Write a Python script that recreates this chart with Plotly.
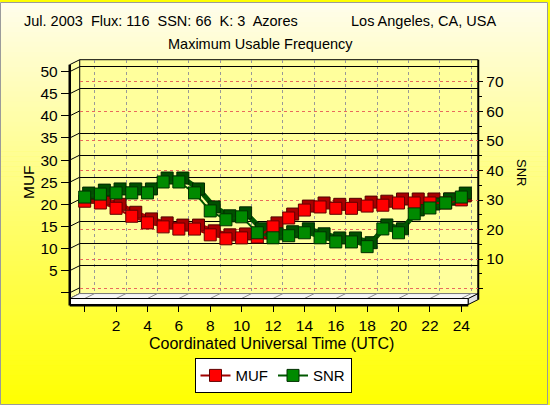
import plotly.graph_objects as go

# ---------------- data ----------------
hours = list(range(25))
muf = [20.7, 20.3, 19.1, 17.3, 15.8, 14.9, 14.4, 14.4, 13.1, 12.2, 12.4, 12.6, 14.9,
       16.9, 18.7, 19.4, 19.1, 19.1, 19.6, 19.8, 20.3, 20.3, 20.3, 20.3, 21.0]
snr = [31.0, 32.0, 32.4, 32.4, 32.4, 36.1, 36.1, 32.4, 26.3, 23.3, 24.3, 18.9, 17.2,
       17.9, 18.9, 17.2, 15.8, 15.8, 14.2, 20.2, 18.9, 25.3, 27.3, 29.0, 31.0]
x_tick_vals = list(range(0, 25, 2))
x_tick_text = [""] + [str(v) for v in range(2, 25, 2)]
muf_tick_vals = list(range(0, 51, 5))
muf_tick_text = [""] + [str(v) for v in range(5, 51, 5)]
snr_tick_vals = list(range(0, 71, 10))
snr_tick_text = [""] + [str(v) for v in range(10, 71, 10)]
snr_minor_vals = list(range(5, 71, 10))
muf_back_grid = [5, 10, 15, 25, 30, 35, 45, 50]

title_left = "Jul. 2003\u00a0 Flux: 116\u00a0 SSN: 66\u00a0 K: 3\u00a0 Azores"
title_right = "Los Angeles, CA, USA"
subtitle = "Maximum Usable Frequency"
x_title = "Coordinated Universal Time (UTC)"

# ---------------- geometry (styling) ----------------
W, H = 550, 405
FONT = "Liberation Sans, Arial, sans-serif"


def fx(p):
    return p / W


def fy(p):
    return (H - p) / H


# front plane (pixels)
FL, FR, FT, FB = 70, 470, 63, 298
DX, DY = 10, -5          # depth of the box
SX, SY = 4, -4           # depth of the cubes
x0_px, px_per_hour = 85.0, 15.75
muf0_px, px_per_muf = 292.2, 4.444
snr0_px, px_per_snr = 288.0, 2.967

xr = [(FL - x0_px) / px_per_hour, (FR - x0_px) / px_per_hour]
muf_r = [(muf0_px - FB) / px_per_muf, (muf0_px - FT) / px_per_muf]
snr_front_r = [(snr0_px - FB) / px_per_snr, (snr0_px - FT) / px_per_snr]
snr_back_r = [(snr0_px - (FB + DY)) / px_per_snr, (snr0_px - (FT + DY)) / px_per_snr]

fig = go.Figure()

# back wall (gridlines only)
fig.add_trace(go.Scatter(x=[], y=[], xaxis="x", yaxis="y", showlegend=False))
fig.add_trace(go.Scatter(x=[], y=[], xaxis="x", yaxis="y2", showlegend=False))

# cube depth (shadow) traces + ribbons
fig.add_trace(go.Scatter(x=hours, y=muf, xaxis="x2", yaxis="y3", mode="lines+markers",
                         line=dict(color="#B00000", width=4),
                         marker=dict(symbol="square", size=12, color="#A80000",
                                     line=dict(color="#500000", width=1)),
                         showlegend=False, hoverinfo="skip"))
fig.add_trace(go.Scatter(x=hours, y=snr, xaxis="x2", yaxis="y4", mode="lines+markers",
                         line=dict(color="#005800", width=5),
                         marker=dict(symbol="square", size=12, color="#005000",
                                     line=dict(color="#002800", width=1)),
                         showlegend=False, hoverinfo="skip"))
# front faces
fig.add_trace(go.Scatter(x=hours, y=muf, xaxis="x3", yaxis="y5", mode="lines+markers",
                         name="MUF", line=dict(color="#A00000", width=2),
                         marker=dict(symbol="square", size=12, color="#FF0000",
                                     line=dict(color="#600000", width=1))))
fig.add_trace(go.Scatter(x=hours, y=snr, xaxis="x3", yaxis="y6", mode="lines+markers",
                         name="SNR", line=dict(color="#005800", width=2),
                         marker=dict(symbol="square", size=12, color="#008A00",
                                     line=dict(color="#003000", width=1))))

hidden = dict(showgrid=False, zeroline=False, showticklabels=False, ticks="", showline=False)
TICKF = dict(size=15.5)

layout = dict(
    width=W, height=H,
    margin=dict(l=0, r=0, t=0, b=0),
    paper_bgcolor="#FFFF00",
    plot_bgcolor="rgba(0,0,0,0)",
    font=dict(family=FONT, size=14, color="black"),
    showlegend=True,
    legend=dict(orientation="h", x=fx(274), xanchor="center", y=fy(375.5), yanchor="middle",
                bgcolor="white", bordercolor="black", borderwidth=1,
                font=dict(size=15), itemwidth=30, tracegroupgap=0),
    # back wall
    xaxis=dict(domain=[fx(FL + DX), fx(FR + DX)], range=xr, anchor="y",
               tickvals=x_tick_vals, showticklabels=False, ticks="",
               showgrid=True, gridcolor="#999999", griddash="dot", gridwidth=1,
               zeroline=False, showline=False),
    yaxis=dict(domain=[fy(FB + DY), fy(FT + DY)], range=snr_back_r, anchor="x", side="right",
               tickvals=snr_tick_vals, ticktext=snr_tick_text, ticks="outside", ticklen=4,
               tickcolor="black", tickfont=TICKF,
               minor=dict(tickvals=snr_minor_vals, ticks="outside", ticklen=3, tickcolor="black",
                          showgrid=False),
               showgrid=True, gridcolor="#E86A5C", griddash="dot", gridwidth=1,
               zeroline=False, showline=False),
    yaxis2=dict(overlaying="y", range=muf_r, anchor="x", side="left",
                tickvals=muf_back_grid, showticklabels=False, ticks="",
                showgrid=True, gridcolor="#000000", gridwidth=1,
                zeroline=False, showline=False),
    # cube depth
    xaxis2=dict(domain=[fx(FL + SX), fx(FR + SX)], range=xr, anchor="y3", **hidden),
    yaxis3=dict(domain=[fy(FB + SY), fy(FT + SY)], range=muf_r, anchor="x2", **hidden),
    yaxis4=dict(overlaying="y3", range=snr_front_r, anchor="x2", **hidden),
    # front
    xaxis3=dict(domain=[fx(FL), fx(FR)], range=xr, anchor="free", position=fy(304),
                tickvals=x_tick_vals, ticktext=x_tick_text, ticks="outside", ticklen=7,
                tickcolor="black", tickfont=TICKF,
                showgrid=False, zeroline=False, showline=False),
    yaxis5=dict(domain=[fy(FB), fy(FT)], range=muf_r, anchor="x3", side="left",
                tickvals=muf_tick_vals, ticktext=muf_tick_text, ticks="outside", ticklen=8,
                tickcolor="black", tickfont=TICKF,
                showgrid=False, zeroline=False, showline=False),
    yaxis6=dict(overlaying="y5", range=snr_front_r, anchor="x3", **hidden),
)
fig.update_layout(**layout)

shapes = []


def P(x, y):
    return f"{fx(x):.5f},{fy(y):.5f}"


# background gradient
N = 81
for i in range(N):
    y0 = i * H / N
    y1 = (i + 1) * H / N + 0.6
    t = (i + 0.5) / N
    b = int(round(236 * (1 - t)))
    g = int(round(253 + 2 * t))
    shapes.append(dict(type="rect", xref="paper", yref="paper", layer="below",
                       x0=0, x1=1, y0=fy(y1), y1=fy(y0),
                       fillcolor=f"rgb(255,{g},{b})", line=dict(width=0)))

# back wall
shapes.append(dict(type="rect", xref="paper", yref="paper", layer="below",
                   x0=fx(FL + DX), x1=fx(FR + DX), y0=fy(FB + DY), y1=fy(FT + DY),
                   fillcolor="#FFFF9C", line=dict(width=0)))
# left wall
shapes.append(dict(type="path", xref="paper", yref="paper", layer="below",
                   path=f"M{P(FL, FT)} L{P(FL + DX, FT + DY)} L{P(FL + DX, FB + DY)} L{P(FL, FB)} Z",
                   fillcolor="#FFFFA6", line=dict(color="black", width=1)))
# left wall diagonals
for v in muf_tick_vals:
    yp = muf0_px - px_per_muf * v
    shapes.append(dict(type="line", xref="paper", yref="paper", layer="below",
                       x0=fx(FL), y0=fy(yp), x1=fx(FL + DX), y1=fy(yp + DY),
                       line=dict(color="black", width=1)))
# floor top
shapes.append(dict(type="path", xref="paper", yref="paper", layer="below",
                   path=f"M{P(FL, FB)} L{P(FL + DX, FB + DY)} L{P(FR + DX, FB + DY)} L{P(FR, FB)} Z",
                   fillcolor="#F6F6F6", line=dict(color="#777777", width=1)))
for v in x_tick_vals:
    xp = x0_px + px_per_hour * v
    shapes.append(dict(type="line", xref="paper", yref="paper", layer="below",
                       x0=fx(xp), y0=fy(FB), x1=fx(xp + DX), y1=fy(FB + DY),
                       line=dict(color="#8C8C8C", width=1)))
# slab front face and right face
shapes.append(dict(type="rect", xref="paper", yref="paper", layer="below",
                   x0=fx(FL), x1=fx(FR), y0=fy(304), y1=fy(FB),
                   fillcolor="white", line=dict(color="black", width=1)))
shapes.append(dict(type="path", xref="paper", yref="paper", layer="below",
                   path=f"M{P(FR, FB)} L{P(FR + DX, FB + DY)} L{P(FR + DX, 304 + DY)} L{P(FR, 304)} Z",
                   fillcolor="#E2E2E2", line=dict(color="black", width=1)))
# heavy edges
shapes.append(dict(type="line", xref="paper", yref="paper", layer="above",
                   x0=fx(FL), y0=fy(FT), x1=fx(FL), y1=fy(305),
                   line=dict(color="black", width=2.5)))
shapes.append(dict(type="line", xref="paper", yref="paper", layer="above",
                   x0=fx(FL), y0=fy(305), x1=fx(FR), y1=fy(305),
                   line=dict(color="black", width=2)))
shapes.append(dict(type="line", xref="paper", yref="paper", layer="below",
                   x0=fx(FR + DX), y0=fy(FT + DY), x1=fx(FR + DX), y1=fy(304 + DY),
                   line=dict(color="black", width=2)))
shapes.append(dict(type="line", xref="paper", yref="paper", layer="below",
                   x0=fx(FL + DX), y0=fy(FT + DY), x1=fx(FR + DX), y1=fy(FT + DY),
                   line=dict(color="black", width=1)))
# legend shadow
shapes.append(dict(type="rect", xref="paper", yref="paper", layer="below",
                   x0=fx(199), x1=fx(353), y0=fy(393), y1=fy(365),
                   fillcolor="#333333", line=dict(width=0)))
# outer border
shapes.append(dict(type="rect", xref="paper", yref="paper", layer="above",
                   x0=fx(0.5), x1=fx(549.5), y0=fy(404.5), y1=fy(0.5),
                   line=dict(color="#9A9A9A", width=1)))

annotations = [
    dict(text=title_left, x=fx(22), y=fy(19), xanchor="left", yanchor="middle",
         font=dict(size=14.5)),
    dict(text=title_right, x=fx(500), y=fy(19), xanchor="right", yanchor="middle",
         font=dict(size=14.5)),
    dict(text=subtitle, x=fx(261), y=fy(42), xanchor="center", yanchor="middle",
         font=dict(size=14.5)),
    dict(text="MUF", x=fx(28), y=fy(181), xanchor="center", yanchor="middle",
         textangle=-90, font=dict(size=15.5)),
    dict(text="SNR", x=fx(524), y=fy(171), xanchor="center", yanchor="middle",
         textangle=90, font=dict(size=13)),
    dict(text=x_title, x=fx(272), y=fy(343), xanchor="center", yanchor="middle",
         font=dict(size=16)),
]
for a in annotations:
    a.update(xref="paper", yref="paper", showarrow=False)

fig.update_layout(shapes=shapes, annotations=annotations)
fig.write_html("out.html", config={"displayModeBar": False},
               post_script="document.body.style.margin='0';")
